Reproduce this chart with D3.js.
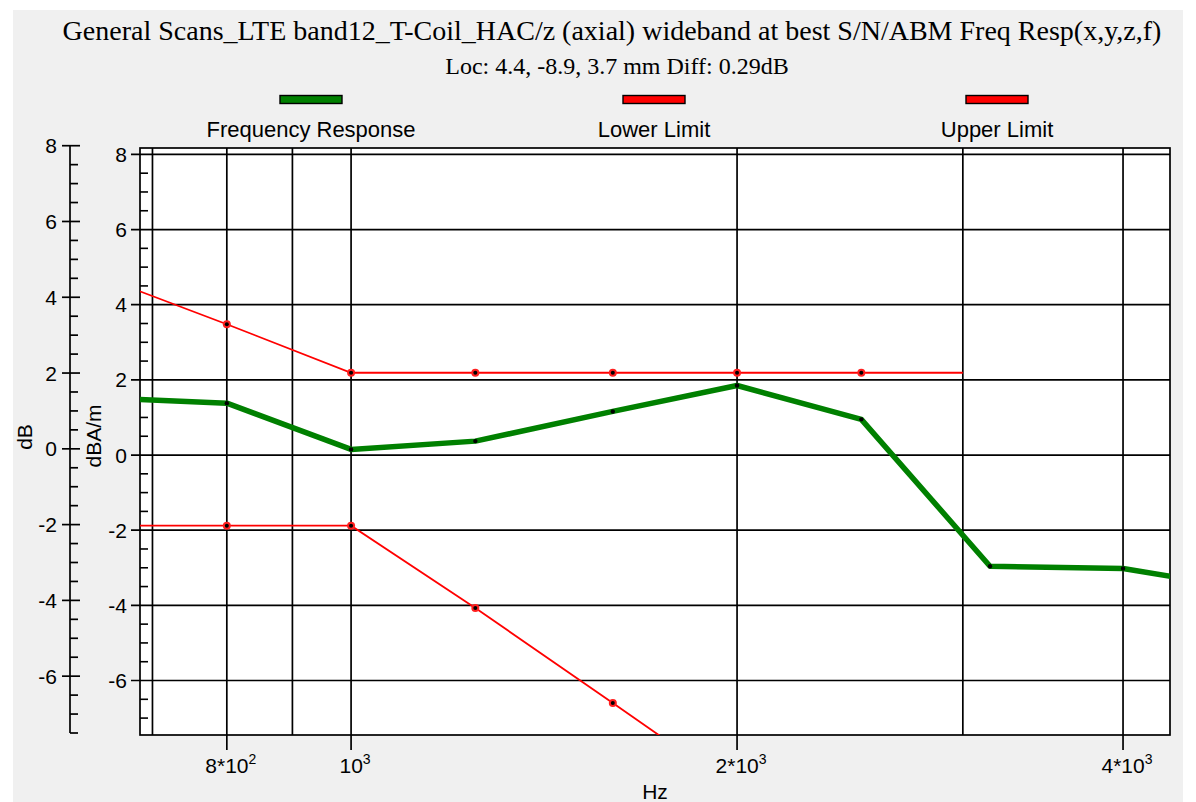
<!DOCTYPE html>
<html>
<head>
<meta charset="utf-8">
<script src="https://cdn.jsdelivr.net/npm/d3@7"></script>
<style>
  html, body { margin: 0; padding: 0; background: #ffffff; }
  svg { display: block; }
</style>
</head>
<body>
<svg id="chart" width="1196" height="802"></svg>
<script>
// ---------- data ----------
const titleText = "General Scans_LTE band12_T-Coil_HAC/z (axial) wideband at best S/N/ABM Freq Resp(x,y,z,f)";
const subtitleText = "Loc: 4.4, -8.9, 3.7 mm Diff: 0.29dB";
const seriesNames = ["Frequency Response", "Lower Limit", "Upper Limit"];
const seriesColors = ["#008000", "#ff0000", "#ff0000"];

const respFreq = [630, 800, 1000, 1250, 1600, 2000, 2500, 3150, 4000, 5000];
const respDb   = [1.53, 1.38, 0.15, 0.37, 1.16, 1.85, 0.95, -2.96, -3.02, -3.57];

const lowerFreq = [630, 800, 1000, 1250, 1600, 2000];
const lowerDb   = [-1.88, -1.88, -1.88, -4.07, -6.6, -8.9];

const upperFreq = [630, 800, 1000, 1250, 1600, 2000, 2500, 3000];
const upperDb   = [4.82, 3.48, 2.19, 2.19, 2.19, 2.19, 2.19, 2.19];

const markerFreqs = [800, 1000, 1250, 1600, 2000, 2500, 3150, 4000];

const xGridValues = [700, 800, 900, 1000, 2000, 3000, 4000];
const xTickValues = [800, 1000, 2000, 4000];
const xTickBase   = ["8*10", "10", "2*10", "4*10"];
const xTickExp    = ["2", "3", "3", "3"];
const yTickValues = [-6, -4, -2, 0, 2, 4, 6, 8];
const xLabel = "Hz";
const yLabelOuter = "dB";
const yLabelInner = "dBA/m";

// ---------- layout ----------
const svg = d3.select("#chart");
const plot = {left: 140, right: 1170, top: 148, bottom: 735};
const sansFont = "'Liberation Sans', Arial, sans-serif";
const serifFont = "'Liberation Serif', 'Times New Roman', serif";

svg.append("rect").attr("x", 13).attr("y", 10).attr("width", 1170).attr("height", 792).attr("fill", "#f0f0f0");

const x = d3.scaleLog().domain([684.5, 4352]).range([plot.left, plot.right]);
const y = d3.scaleLinear().domain([-7.45, 8.17]).range([plot.bottom, plot.top]);
const yOuter = d3.scaleLinear().domain([-7.5, 8]).range([733, 145.7]);

// titles
svg.append("text").attr("x", 612).attr("y", 40).attr("text-anchor", "middle")
  .attr("font-family", serifFont).attr("font-size", 28).attr("fill", "#000").text(titleText);
svg.append("text").attr("x", 617).attr("y", 74).attr("text-anchor", "middle")
  .attr("font-family", serifFont).attr("font-size", 24).attr("fill", "#000").text(subtitleText);

// legend
const legendCenters = [311, 654, 997];
seriesNames.forEach((name, i) => {
  const g = svg.append("g").attr("transform", `translate(${legendCenters[i]},0)`);
  g.append("rect").attr("x", -31).attr("y", 95.5).attr("width", 62).attr("height", 8)
    .attr("fill", seriesColors[i]).attr("stroke", "#000").attr("stroke-width", 1.4);
  g.append("text").attr("x", 0).attr("y", 137).attr("text-anchor", "middle")
    .attr("font-family", sansFont).attr("font-size", 22).attr("fill", "#000").text(name);
});

// plot background
svg.append("rect").attr("x", plot.left).attr("y", plot.top)
  .attr("width", plot.right - plot.left).attr("height", plot.bottom - plot.top).attr("fill", "#fff");

// grid
const grid = svg.append("g").attr("stroke", "#000").attr("stroke-width", 1.7);
grid.selectAll("line.v").data(xGridValues).join("line")
  .attr("x1", d => x(d)).attr("x2", d => x(d)).attr("y1", plot.top).attr("y2", plot.bottom);
grid.selectAll("line.h").data(yTickValues).join("line")
  .attr("x1", plot.left - 9).attr("x2", plot.right).attr("y1", d => y(d)).attr("y2", d => y(d));

// inner minor ticks
const minorInner = d3.range(-7, 8.01, 0.5).filter(v => Math.abs(v % 2) > 1e-6);
svg.append("g").attr("stroke", "#000").attr("stroke-width", 1.6)
  .selectAll("line").data(minorInner).join("line")
  .attr("x1", plot.left).attr("x2", plot.left + 8).attr("y1", d => y(d)).attr("y2", d => y(d));

// border
svg.append("rect").attr("x", plot.left).attr("y", plot.top)
  .attr("width", plot.right - plot.left).attr("height", plot.bottom - plot.top)
  .attr("fill", "none").attr("stroke", "#000").attr("stroke-width", 1.7);

// inner y labels
svg.append("g").selectAll("text").data(yTickValues).join("text")
  .attr("x", 127).attr("y", d => y(d)).attr("dy", "0.36em").attr("text-anchor", "end")
  .attr("font-family", sansFont).attr("font-size", 21).attr("fill", "#000").text(d => d);

// outer axis
const outer = svg.append("g").attr("stroke", "#000").attr("stroke-width", 1.7);
outer.append("line").attr("x1", 70).attr("x2", 70).attr("y1", yOuter(8)).attr("y2", yOuter(-7.5));
outer.selectAll("line.maj").data(yTickValues).join("line")
  .attr("x1", 62).attr("x2", 80).attr("y1", d => yOuter(d)).attr("y2", d => yOuter(d));
const minorOuter = d3.range(-7.5, 8.01, 0.5).filter(v => Math.abs(v % 2) > 1e-6);
outer.selectAll("line.min").data(minorOuter).join("line")
  .attr("x1", 70).attr("x2", 78).attr("y1", d => yOuter(d)).attr("y2", d => yOuter(d));
svg.append("g").selectAll("text").data(yTickValues).join("text")
  .attr("x", 57).attr("y", d => yOuter(d)).attr("dy", "0.36em").attr("text-anchor", "end")
  .attr("font-family", sansFont).attr("font-size", 21).attr("fill", "#000").text(d => d);

// axis titles
svg.append("text").attr("transform", "translate(32,437) rotate(-90)").attr("text-anchor", "middle")
  .attr("font-family", sansFont).attr("font-size", 21).attr("fill", "#000").text(yLabelOuter);
svg.append("text").attr("transform", "translate(101,436) rotate(-90)").attr("text-anchor", "middle")
  .attr("font-family", sansFont).attr("font-size", 21).attr("fill", "#000").text(yLabelInner);

// x ticks
svg.append("g").attr("stroke", "#000").attr("stroke-width", 1.7)
  .selectAll("line").data(xTickValues).join("line")
  .attr("x1", d => x(d)).attr("x2", d => x(d)).attr("y1", plot.bottom).attr("y2", plot.bottom + 15);
const xl = svg.append("g").selectAll("text").data(xTickValues).join("text")
  .attr("x", d => x(d) + 4).attr("y", 773).attr("text-anchor", "middle")
  .attr("font-family", sansFont).attr("font-size", 21).attr("fill", "#000");
xl.append("tspan").text((d, i) => xTickBase[i]);
xl.append("tspan").attr("font-size", 14).attr("dy", -9).text((d, i) => xTickExp[i]);
svg.append("text").attr("x", 655).attr("y", 799).attr("text-anchor", "middle")
  .attr("font-family", sansFont).attr("font-size", 21).attr("fill", "#000").text(xLabel);

// series
svg.append("clipPath").attr("id", "clip").append("rect")
  .attr("x", plot.left).attr("y", plot.top).attr("width", plot.right - plot.left).attr("height", plot.bottom - plot.top);
const layer = svg.append("g").attr("clip-path", "url(#clip)");
const line = d3.line().x(d => x(d[0])).y(d => y(d[1]));

const lowerPts = lowerFreq.map((f, i) => [f, lowerDb[i]]);
const upperPts = upperFreq.map((f, i) => [f, upperDb[i]]);
const respPts = respFreq.map((f, i) => [f, respDb[i]]);

[lowerPts, upperPts].forEach(pts => {
  layer.append("path").datum(pts).attr("d", line).attr("fill", "none")
    .attr("stroke", "#ff0000").attr("stroke-width", 1.8);
});
layer.append("path").datum(respPts).attr("d", line).attr("fill", "none")
  .attr("stroke", "#008000").attr("stroke-width", 5.5).attr("stroke-linejoin", "round");

const isMarker = d => markerFreqs.includes(d[0]);
[lowerPts, upperPts].forEach(pts => {
  const m = layer.append("g").selectAll("g").data(pts.filter(isMarker)).join("g");
  m.append("circle").attr("cx", d => x(d[0])).attr("cy", d => y(d[1])).attr("r", 4).attr("fill", "#ff2020");
  m.append("circle").attr("cx", d => x(d[0])).attr("cy", d => y(d[1])).attr("r", 2).attr("fill", "#000");
});
layer.append("g").selectAll("circle").data(respPts.filter(isMarker)).join("circle")
  .attr("cx", d => x(d[0])).attr("cy", d => y(d[1])).attr("r", 2.2).attr("fill", "#000");
</script>
</body>
</html>
